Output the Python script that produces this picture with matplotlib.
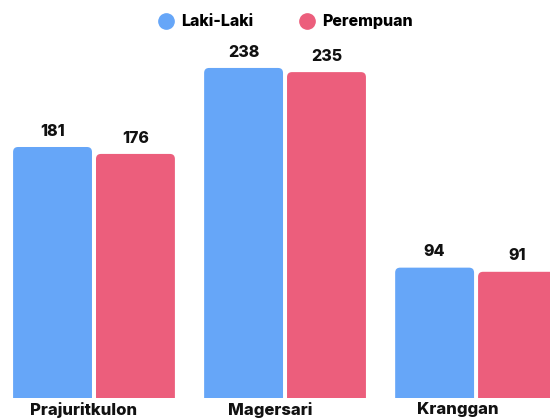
import matplotlib
matplotlib.use("Agg")
import matplotlib.pyplot as plt
from matplotlib.lines import Line2D
from matplotlib.patches import FancyBboxPatch

plt.rcParams['font.family'] = ['Inter', 'DejaVu Sans']

categories = ["Prajuritkulon", "Magersari", "Kranggan"]
laki = [181, 238, 94]
perempuan = [176, 235, 91]
series_names = ["Laki-Laki", "Perempuan"]
colors = ["#66a6f8", "#ec5e7c"]

fig = plt.figure(figsize=(5.5, 4.2), dpi=100)
ax = fig.add_axes([0, 22 / 420, 1, 398 / 420])
ax.set_xlim(-0.492, 2.387)
ax.set_ylim(0, 287)

width = 0.413
offset = 0.217
r_x = 0.026
r_y = 3.6

for vals, off, col in [(laki, -offset, colors[0]), (perempuan, offset, colors[1])]:
    for i, v in enumerate(vals):
        x0 = i + off - width / 2
        p = FancyBboxPatch((x0, -20), width, v + 20,
                           boxstyle=f"round,pad=0,rounding_size={r_x}",
                           mutation_aspect=r_y / r_x,
                           facecolor=col, edgecolor="none")
        ax.add_patch(p)
        ax.annotate(str(v), (i + off, v), xytext=(0, 6), textcoords="offset points",
                    ha="center", va="bottom", fontsize=11.5, fontweight="heavy",
                    color="#111111")

# category labels sit a little left of the group centres in the original
label_shift = [-0.052, -0.079, -0.094]
ax.set_xticks([i + s for i, s in enumerate(label_shift)])
ax.set_xticklabels(categories, fontsize=12, fontweight="heavy", color="#111111")
ax.tick_params(axis="x", length=0, pad=3)
ax.set_yticks([])
for s in ax.spines.values():
    s.set_visible(False)

handles = [Line2D([], [], marker="o", linestyle="none", markersize=11,
                  markerfacecolor=c, markeredgecolor=c) for c in colors]
fig.legend(handles, series_names, loc="upper center", bbox_to_anchor=(0.521, 1.0),
           ncol=2, frameon=False, handlelength=0.8, handletextpad=0.55,
           columnspacing=2.95, prop={"weight": "heavy", "size": 11.5})

fig.savefig("out.png", dpi=100)
